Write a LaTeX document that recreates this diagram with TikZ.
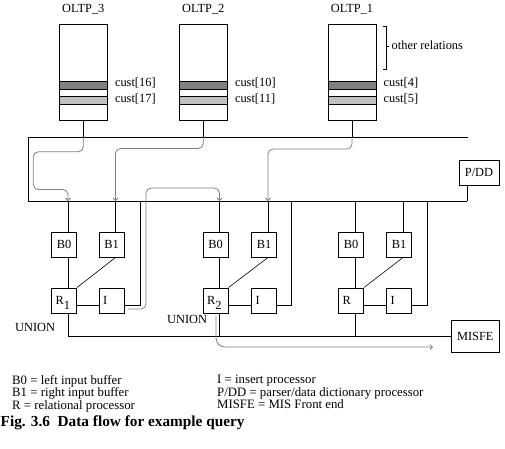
\documentclass[tikz,border=0pt]{standalone}
\usepackage{fontspec}
\setmainfont{Liberation Serif}
\usetikzlibrary{arrows.meta}
\definecolor{dband}{RGB}{128,128,128}
\definecolor{lband}{RGB}{192,192,192}
\definecolor{flowc}{RGB}{128,128,128}
\begin{document}
\begin{tikzpicture}[x=1pt,y=-1pt,
  every node/.style={font=\fontsize{12.4}{14}\selectfont, inner sep=0pt},
  line/.style={line width=1pt},
  dbbox/.style={draw, line width=1pt, minimum width=48pt, minimum height=96pt},
  darkband/.style={draw, line width=1pt, fill=dband, minimum width=48pt, minimum height=8pt},
  lightband/.style={draw, line width=1pt, fill=lband, minimum width=48pt, minimum height=8pt},
  pbox/.style={draw, line width=1pt, minimum width=25pt, minimum height=25pt},
  lbox/.style={pbox, text width=17pt, align=left, inner xsep=4pt},
  thinline/.style={line width=0.6pt},
  flow/.style={draw=flowc, line width=0.8pt, rounded corners=5pt, -{Straight Barb[length=2.5pt,width=5pt]}},
  legend/.style={anchor=base west, font=\fontsize{12.8}{14}\selectfont},
]
\fill[white] (0,0) rectangle (505,448);
\useasboundingbox (0,0) rectangle (505,448);

% OLTP boxes
\foreach \n/\x/\a/\b/\t in {o3/83.3/16/17/3, o2/203.3/10/11/2, o1/352/4/5/1}{
  \node[dbbox] (\n) at (\x,72) {};
  \node[darkband] (\n d) at (\x,85) {};
  \node[lightband] (\n l) at (\x,100.3) {};
  \node[anchor=base] (\n lab) at (\x,12) {OLTP\_\t};
  \node[anchor=base west] (\n ca) at ([xshift=7pt]\n.east |- 0,86.5) {cust[\a]};
  \node[anchor=base west] (\n cb) at ([xshift=7pt]\n.east |- 0,102.3) {cust[\b]};
}
% bracket
\draw[line] (382.7,26) -- (386.7,26) -- (386.7,69) -- (382.7,69);
\draw[line] (386.7,46.7) -- (389,46.7);
\node[anchor=base west] (other) at (391.5,49.5) {other relations};

% bus
\coordinate (busTL) at (28,137);
\coordinate (busTR) at (468,137);
\coordinate (busBL) at (28,201);
\coordinate (busBR) at (467,201);
\draw[line] (busTR) -- (busTL) -- (busBL) -- (busBR);
\foreach \n in {o3,o2,o1}{
  \draw[line] (\n.south) -- (\n.south |- busTL);
}

% P/DD
\node[draw, line width=1pt, minimum width=40pt, minimum height=25pt] (pdd) at (479,172.5) {P/DD};
\draw[line] ([xshift=-12pt]pdd.south) -- ([xshift=-12pt]pdd.south |- busBR);

% MISFE
\node[draw, line width=1pt, minimum width=48pt, minimum height=32pt] (misfe) at (475.3,336.5) {MISFE};

% processor groups
\coordinate (ua) at (140.5,201);
\coordinate (ub) at (291.7,201);
\coordinate (uc) at (427.3,201);
\foreach \g/\x/\y/\r in {a/64/111.5/R\raisebox{-5pt}[0pt][0pt]{1}, b/215.5/264/R\raisebox{-5pt}[0pt][0pt]{2}, c/351/399/R}{
  \node[pbox] (b0\g) at (\x,244.5) {B0};
  \node[pbox] (b1\g) at (\y,244.5) {B1};
  \node[lbox] (r\g) at (\x,300.5) {\r};
  \node[lbox] (i\g) at (\y,300.5) {I};
  \draw[line] ([xshift=4pt]b0\g.north |- busBL) -- ([xshift=4pt]b0\g.north);
  \draw[line] ([xshift=4pt]b0\g.south) -- ([xshift=4pt]r\g.north);
  \draw[line] ([xshift=4pt]b1\g.north |- busBL) -- ([xshift=4pt]b1\g.north);
  \draw[thinline] ([xshift=4pt]b1\g.south) -- (r\g.north east);
  \draw[line] ([yshift=-5pt]r\g.east) -- ([yshift=-5pt]i\g.west);
  \draw[line] ([yshift=-5pt]i\g.east) -| (u\g);
  \draw[line] ([xshift=4pt]r\g.south) -- ([xshift=4pt]r\g.south |- misfe.west);
}
\draw[line] ([xshift=4pt]ra.south |- misfe.west) -- (misfe.west);

\node[anchor=base west] (un1) at (15,331) {UNION};
\node[anchor=base west] (un2) at (167,323) {UNION};

% data flow arrows
\draw[flow] (o3.south |- busTL) -- (83.3,151.7) -- (33.3,151.7) -- (33.3,189.5) -- (68,189.5) -- ([xshift=4pt]b0a.north |- busBL);
\draw[flow] (o2.south |- busTL) -- (203.3,148.5) -- (115.5,148.5) -- ([xshift=4pt]b1a.north |- busBL);
\draw[flow] (o1.south |- busTL) -- (352,149) -- (268,149) -- ([xshift=4pt]b1b.north |- busBL);
\draw[flow] ([xshift=3.5pt,yshift=-8.5pt]ia.east) -- (146,309) -- (146,188) -- (219.5,188) -- ([xshift=4pt]b0b.north |- busBL);
\coordinate (mend) at (433,347);
\draw[flow, rounded corners=9pt] ([xshift=0.5pt,yshift=-2pt]rb.south) -- (216,347) -- (mend);

% legend
\node[legend] (lg1) at (12,384) {B0 = left input buffer};
\node[legend] (lg2) at (12,396.5) {B1 = right input buffer};
\node[legend] (lg3) at (12,409) {R = relational processor};
\node[legend] (lg4) at (217,383.5) {I = insert processor};
\node[legend] (lg5) at (217,396) {P/DD = parser/data dictionary processor};
\node[legend] (lg6) at (217,408.5) {MISFE = MIS Front end};
\node[anchor=base west, font=\fontsize{15.3}{18}\selectfont\bfseries] (cap) at (0.5,426) {Fig. 3.6\ \ Data flow for example query};
\end{tikzpicture}
\end{document}
